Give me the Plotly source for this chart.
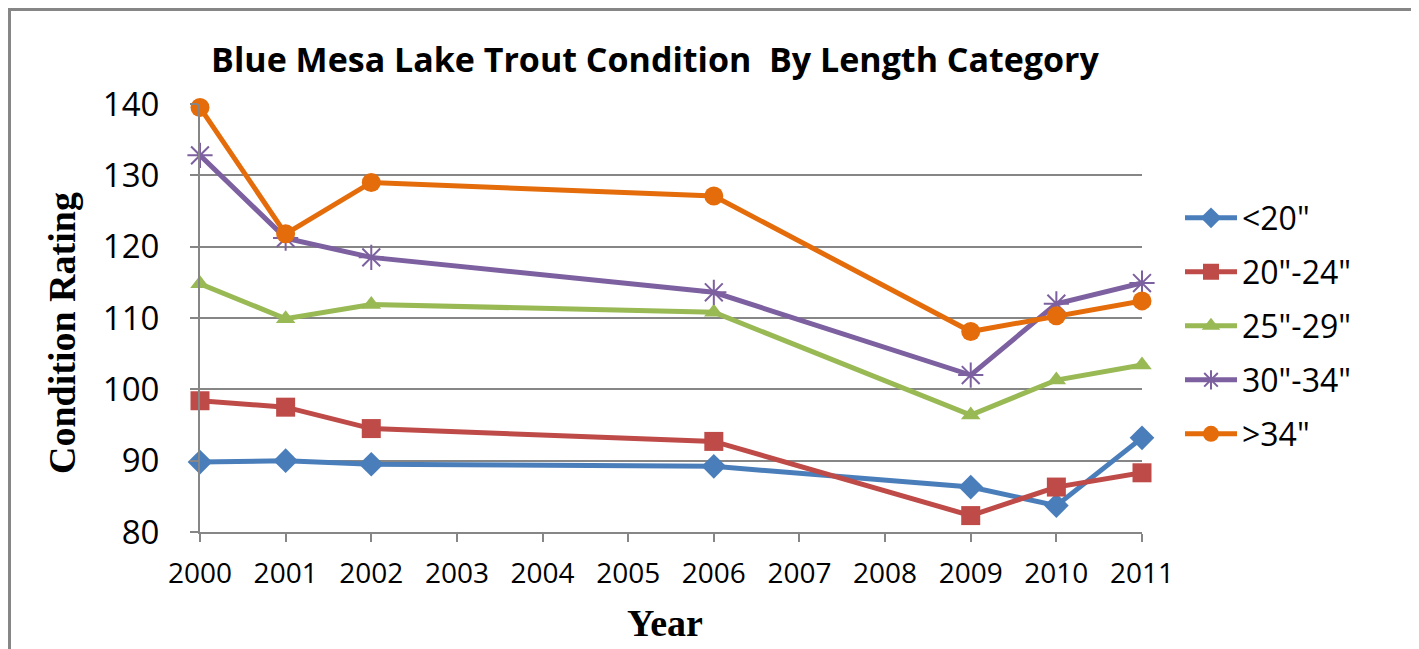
import plotly.graph_objects as go

years = [2000, 2001, 2002, 2006, 2009, 2010, 2011]
series_names = ['<20"', '20"-24"', '25"-29"', '30"-34"', '>34"']
lt20 = [89.8, 90.0, 89.5, 89.2, 86.3, 83.7, 93.2]
s20_24 = [98.4, 97.5, 94.5, 92.7, 82.3, 86.3, 88.3]
s25_29 = [114.8, 109.9, 111.9, 110.8, 96.4, 101.3, 103.4]
s30_34 = [132.8, 121.2, 118.5, 113.6, 102.0, 112.0, 114.9]
gt34 = [139.5, 121.8, 129.0, 127.1, 108.1, 110.3, 112.4]
tick_years = list(range(2000, 2012))
y_ticks = [80, 90, 100, 110, 120, 130, 140]

# page body has an 8px margin; figure sized to fit the window
OFF = 8
W, H = 1419 - OFF, 649 - OFF
# plot area in screen pixels: x 200..1142, y 104.5..531.5
L = 200 - OFF
R = W - (1142 - OFF)
T = 104 - OFF
B = H - (532 - OFF)

colors = ["#4a7ebb", "#be4b48", "#98b954", "#7d60a0", "#e46c0a"]
symbols = ["diamond", "square", "triangle-up", "asterisk-open", "circle"]
sizes = [19, 19, 17, 21, 19]
values = [lt20, s20_24, s25_29, s30_34, gt34]
legend_rows = [218, 272, 326, 380, 434]  # screen y centers

pw = W - L - R
ph = H - T - B


def px_x(x):
    return (x - OFF - L) / pw


def px_y(y):
    return (H - B - (y - OFF)) / ph


fig = go.Figure()
font_main = "Open Sans"
legends = {}
for i, (name, vals, c, sym, sz) in enumerate(zip(series_names, values, colors, symbols, sizes)):
    marker = dict(symbol=sym, size=sz, color=c)
    if sym == "asterisk-open":
        marker["line"] = dict(color=c, width=2)
    else:
        marker["line"] = dict(width=0)
    lname = "legend" if i == 0 else f"legend{i + 1}"
    fig.add_trace(go.Scatter(x=years, y=vals, name=name, mode="lines+markers",
                             line=dict(color=c, width=5), marker=marker,
                             cliponaxis=False, legend=lname))
    legends[lname] = dict(x=px_x(1180), y=px_y(legend_rows[i]), xanchor="left", yanchor="middle",
                          font=dict(family=font_main, size=32, color="black"),
                          bgcolor="rgba(0,0,0,0)", itemwidth=52)

grid = "#868686"
fig.update_layout(
    width=W, height=H,
    margin=dict(l=L, r=R, t=T, b=B, pad=0),
    paper_bgcolor="white", plot_bgcolor="white",
    title=dict(text="<b>Blue Mesa Lake Trout Condition  By Length Category</b>",
               x=(655 - OFF) / W, xanchor="center", xref="container",
               y=1 - (60 - OFF) / H, yanchor="middle", yref="container",
               font=dict(family=font_main, size=34, color="black")),
    xaxis=dict(range=[2000, 2011], tickvals=tick_years, ticktext=[str(t) for t in tick_years],
               showgrid=False, zeroline=False, showline=True, linecolor=grid, linewidth=2,
               ticks="outside", ticklen=8, tickcolor=grid, tickwidth=2,
               ticklabelstandoff=7,
               tickfont=dict(family=font_main, size=28, color="black")),
    yaxis=dict(range=[80, 140], tickvals=y_ticks,
               showgrid=True, gridcolor=grid, gridwidth=2, zeroline=False,
               showline=True, linecolor=grid, linewidth=2,
               ticks="outside", ticklen=8, tickcolor=grid, tickwidth=2,
               ticklabelstandoff=24,
               tickfont=dict(family=font_main, size=33, color="black")),
    showlegend=True,
    **legends,
)

fig.add_annotation(text="<b>Year</b>", xref="paper", yref="paper",
                   x=px_x(665), y=px_y(623), xanchor="center", yanchor="middle", showarrow=False,
                   font=dict(family="Liberation Serif", size=38, color="black"))
fig.add_annotation(text="<b>Condition Rating</b>", xref="paper", yref="paper",
                   x=px_x(62), y=px_y(333), xanchor="center", yanchor="middle",
                   showarrow=False, textangle=-90,
                   font=dict(family="Liberation Serif", size=38, color="black"))

fig.add_shape(type="rect", xref="paper", yref="paper",
              x0=px_x(OFF + 1.5), x1=px_x(1413), y0=px_y(700), y1=px_y(OFF + 1.5),
              line=dict(color=grid, width=3), fillcolor="rgba(0,0,0,0)", layer="below")

fig.write_html("out.html")
